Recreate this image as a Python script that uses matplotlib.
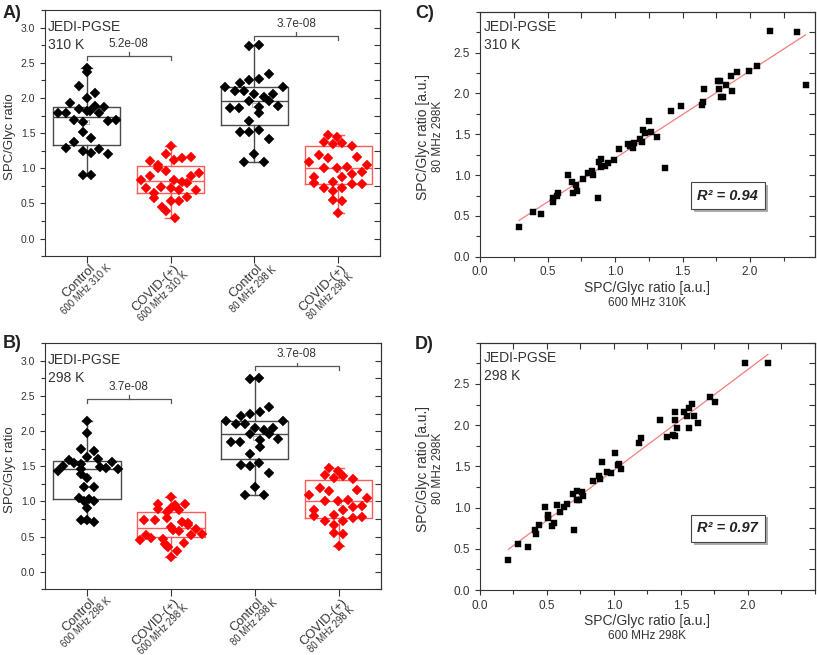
import matplotlib.pyplot as plt
import numpy as np
from matplotlib import patheffects as pe
from matplotlib.ticker import MultipleLocator

plt.rcParams['font.family'] = ['Liberation Sans', 'DejaVu Sans']
TXT = '#333333'
plt.rcParams['text.color'] = TXT
plt.rcParams['axes.labelcolor'] = TXT
plt.rcParams['xtick.color'] = TXT
plt.rcParams['ytick.color'] = TXT
plt.rcParams['axes.edgecolor'] = '#333333'

# ---- box panels: categories ----
cat_main = ['Control', 'COVID-(+)', 'Control', 'COVID-(+)']
cat_sub_a = ['600 MHz 310 K', '600 MHz 310 K', '80 MHz 298 K', '80 MHz 298 K']
cat_sub_b = ['600 MHz 298 K', '600 MHz 298 K', '80 MHz 298 K', '80 MHz 298 K']

# values (and the small horizontal jitter of each point)
a1_vals = [2.43, 2.37, 2.17, 2.07, 2.00, 1.93, 1.89, 1.87, 1.84, 1.82, 1.81, 1.78, 1.79, 1.79,
           1.68, 1.66, 1.67, 1.68, 1.51, 1.43, 1.38, 1.29, 1.25, 1.22, 1.27, 1.20, 0.90, 0.90]
a1_jit = [0, 0, -0.10, 0.10, 0, -0.20, 0.10, 0.20, -0.10, 0, 0.04, -0.35, -0.25, 0.15,
          -0.15, -0.05, 0.25, 0.35, -0.05, 0.05, -0.15, -0.25, -0.05, 0.05, 0.15, 0.25, -0.05, 0.05]
a2_vals = [1.32, 1.20, 1.12, 1.15, 1.16, 1.10, 1.04, 1.00, 0.93, 0.96, 0.89, 0.89, 0.83, 0.83, 0.81,
           0.79, 0.72, 0.73, 0.72, 0.69, 0.69, 0.65, 0.57, 0.54, 0.54, 0.59, 0.45, 0.39, 0.29]
a2_jit = [0, -0.05, 0.04, 0.14, 0.24, -0.25, -0.15, -0.15, 0.34, -0.05, -0.25, 0.24, -0.35, 0.04, 0.14,
          0.19, -0.30, -0.11, 0, 0.10, 0.30, -0.20, -0.20, 0, 0.10, 0.19, -0.10, -0.05, 0.05]
c80_vals = [2.74, 2.76, 2.34, 2.27, 2.25, 2.21, 2.15, 2.15, 2.10, 2.10, 2.05, 2.02, 2.05, 1.96,
            1.96, 1.89, 1.85, 1.85, 1.87, 1.78, 1.67, 1.52, 1.51, 1.55, 1.41, 1.09, 1.20, 1.09]
c80_jit = [-0.06, 0.05, 0.17, 0.06, -0.06, -0.17, -0.35, 0.34, -0.23, -0.12, 0, 0.11, 0.22, -0.06,
           0.17, 0.28, -0.29, -0.18, 0.06, 0.06, -0.06, -0.17, -0.06, 0.05, 0.17, -0.12, 0, 0.11]
v80_vals = [1.47, 1.44, 1.37, 1.34, 1.36, 1.32, 1.19, 1.15, 1.16, 1.09, 1.05, 1.00, 1.01, 1.02,
            0.88, 0.88, 0.94, 0.92, 0.79, 0.725, 0.80, 0.725, 0.77, 0.78, 0.67, 0.55, 0.53, 0.37]
v80_jit = [-0.12, -0.01, -0.17, -0.06, 0.05, 0.17, -0.23, -0.12, 0.22, -0.35, 0.34, -0.17, -0.01, 0.11,
           -0.29, 0.05, 0.28, 0.17, -0.29, -0.17, -0.06, 0.05, 0.17, 0.28, -0.06, -0.06, 0.05, 0]
b1_vals = [2.15, 1.98, 1.75, 1.72, 1.63, 1.60, 1.59, 1.55, 1.56, 1.51, 1.44, 1.53, 1.47, 1.46,
           1.49, 1.46, 1.39, 1.34, 1.21, 1.21, 1.05, 1.04, 1.01, 1.00, 0.91, 0.74, 0.73, 0.71]
b1_jit = [0, 0, -0.07, 0.08, 0, 0.13, -0.21, -0.15, 0.30, -0.28, -0.35, -0.07, 0.23, 0.37,
          0.16, -0.07, -0.07, 0, -0.03, 0.08, -0.10, 0.02, 0.08, -0.03, 0, -0.07, 0, 0.08]
b2_vals = [1.06, 0.96, 0.96, 0.95, 0.89, 0.85, 0.88, 0.90, 0.77, 0.74, 0.73, 0.71, 0.70, 0.66, 0.63,
           0.60, 0.61, 0.58, 0.54, 0.52, 0.52, 0.48, 0.45, 0.46, 0.41, 0.39, 0.37, 0.35, 0.29, 0.21]
b2_jit = [0, -0.15, 0.17, 0.05, -0.15, -0.05, 0.10, 0, -0.05, -0.32, -0.19, 0.13, 0.20, 0.20, 0,
          0.03, 0.30, 0.10, 0.37, -0.30, 0.24, -0.24, -0.37, -0.10, 0.16, -0.07, -0.05, -0.03, 0.07, 0]

# box statistics: q1, median, q3
a_q1 = [1.33, 0.654, 1.61, 0.77]
a_med = [1.73, 0.82, 1.96, 1.00]
a_q3 = [1.87, 1.03, 2.15, 1.31]
b_q1 = [1.04, 0.49, 1.61, 0.77]
b_med = [1.46, 0.62, 1.96, 1.00]
b_q3 = [1.58, 0.846, 2.15, 1.31]

# significance brackets (y level, p-value)
a_brk_y = [2.60, 2.886]
a_brk_p = ['5.2e-08', '3.7e-08']
b_brk_y = [2.461, 2.925]
b_brk_p = ['3.7e-08', '3.7e-08']

# ---- scatter panels ----
c_x = [0.289, 0.39, 0.452, 0.538, 0.538, 0.568, 0.575, 0.649, 0.684, 0.686, 0.709, 0.716, 0.765, 0.802,
       0.832, 0.835, 0.872, 0.879, 0.894, 0.896, 0.928, 0.951, 0.99, 1.027, 1.099, 1.111, 1.131, 1.143,
       1.185, 1.202, 1.205, 1.225, 1.254, 1.269, 1.309, 1.370, 1.412, 1.489, 1.647, 1.649, 1.662, 1.765,
       1.773, 1.778, 1.783, 1.802, 1.822, 1.859, 1.864, 1.904, 1.988, 2.049, 2.148, 2.346, 2.41]
c_y = [0.359, 0.547, 0.523, 0.670, 0.719, 0.743, 0.784, 1.00, 0.915, 0.776, 0.874, 0.80, 0.948, 1.021,
       1.05, 1.005, 0.715, 1.156, 1.20, 1.103, 1.107, 1.144, 1.185, 1.315, 1.377, 1.36, 1.328, 1.397,
       1.438, 1.409, 1.548, 1.511, 1.667, 1.524, 1.471, 1.083, 1.789, 1.846, 1.855, 1.895, 2.051, 2.157,
       2.059, 2.157, 1.961, 1.961, 2.10, 2.214, 2.03, 2.259, 2.275, 2.337, 2.765, 2.749, 2.104]
d_x = [0.212, 0.281, 0.356, 0.411, 0.418, 0.438, 0.486, 0.511, 0.511, 0.540, 0.553, 0.575, 0.600,
       0.628, 0.648, 0.697, 0.705, 0.722, 0.727, 0.742, 0.760, 0.772, 0.842, 0.887, 0.897, 0.909,
       0.951, 0.976, 1.004, 1.029, 1.041, 1.054, 1.188, 1.203, 1.345, 1.395, 1.440, 1.457, 1.457,
       1.457, 1.474, 1.519, 1.544, 1.557, 1.559, 1.584, 1.599, 1.624, 1.719, 1.751, 1.980, 2.149]
d_y = [0.366, 0.553, 0.524, 0.732, 0.683, 0.789, 1.004, 0.915, 0.874, 0.780, 0.813, 1.028, 0.951,
       1.008, 1.049, 1.163, 0.724, 1.089, 1.203, 1.093, 1.187, 1.146, 1.321, 1.382, 1.341, 1.553,
       1.435, 1.415, 1.667, 1.512, 1.524, 1.472, 1.789, 1.846, 2.057, 1.858, 1.878, 2.163, 2.065,
       1.870, 1.963, 2.163, 2.106, 2.211, 1.967, 2.256, 2.106, 2.024, 2.337, 2.276, 2.748, 2.756]
c_r2 = 'R\u00b2 = 0.94'
d_r2 = 'R\u00b2 = 0.97'
c_xsub = '600 MHz 310K'
d_xsub = '600 MHz 298K'
y_sub = '80 MHz 298K'

GREY_BOX = '#4a4a4a'
RED_BOX = '#ff5a5a'

fig = plt.figure(figsize=(8.17, 6.55), dpi=100)
renderer = fig.canvas.get_renderer()


def text_width_pt(s, size):
    tmp = fig.text(0, 0, s, fontsize=size)
    w = tmp.get_window_extent(renderer).width * 72.0 / fig.dpi
    tmp.remove()
    return w


def jedi_label(ax, temp, x0, y0):
    ax.text(x0, y0, 'JEDI-PGSE', transform=ax.transAxes, ha='left', va='top', fontsize=10)
    ax.annotate(temp, xy=(x0, y0), xycoords='axes fraction', xytext=(0, -12.8),
                textcoords='offset points', ha='left', va='top', fontsize=10)


def box_panel(ax, groups, jits, q1, med, q3, sub_labels, brk_y, brk_p, temp):
    pos = np.arange(1, 5)
    cols = ['black', 'red', 'black', 'red']
    ecols = [GREY_BOX, RED_BOX, GREY_BOX, RED_BOX]
    stats = []
    for i, g in enumerate(groups):
        stats.append(dict(q1=q1[i], med=med[i], q3=q3[i], whislo=min(g), whishi=max(g),
                          mean=np.mean(g), fliers=[]))
    art = ax.bxp(stats, positions=pos, widths=0.8, showmeans=True, capwidths=0.13,
                 patch_artist=False)
    for i in range(4):
        c = ecols[i]
        art['boxes'][i].set(color=c, linewidth=1.0)
        art['medians'][i].set(color=c, linewidth=1.0)
        for k in (2 * i, 2 * i + 1):
            art['whiskers'][k].set(color=c, linewidth=1.0)
            art['caps'][k].set(color=c, linewidth=1.0)
        art['means'][i].set(marker='s', markersize=3, markerfacecolor='none',
                            markeredgecolor='#aaaaaa', markeredgewidth=0.6, zorder=2)
    for i, g in enumerate(groups):
        ax.plot(pos[i] + np.array(jits[i]), g, 'D', color=cols[i], markersize=4.6,
                markeredgewidth=0.3, zorder=3)

    # significance brackets
    for j, (y, p) in enumerate(zip(brk_y, brk_p)):
        x1, x2 = pos[2 * j], pos[2 * j + 1]
        xm = (x1 + x2) / 2
        ax.plot([x1, x1, x2, x2], [y - 0.055, y, y, y - 0.055], color='#555555', lw=0.9)
        ax.plot([xm, xm], [y, y + 0.05], color='#555555', lw=0.9)
        ax.text(xm, y + 0.085, p, ha='center', va='bottom', fontsize=8.5)

    ax.set_xlim(0.5, 4.5)
    ax.set_ylim(-0.25, 3.25)
    ax.set_yticks(np.arange(0, 3.01, 0.5))
    ax.yaxis.set_major_formatter(plt.FormatStrFormatter('%.1f'))
    ax.yaxis.set_minor_locator(MultipleLocator(0.25))
    ax.tick_params(axis='y', which='major', direction='out', length=3.5, width=0.8, labelsize=7.5)
    ax.tick_params(axis='y', which='minor', direction='out', length=3, width=0.8)
    ax.set_xticks(pos)
    ax.set_xticklabels([])
    ax.tick_params(axis='x', which='major', direction='out', length=5, width=0.8)
    sec = ax.secondary_yaxis('right')
    sec.yaxis.set_major_locator(MultipleLocator(0.25))
    sec.tick_params(direction='in', length=4, width=0.8, labelright=False)
    ax.annotate('SPC/Glyc ratio', xy=(0, 0.485), xycoords='axes fraction', xytext=(-25, 0),
                textcoords='offset points', ha='center', va='center', rotation=90, fontsize=9.5)

    # two-line rotated category labels: main line right-anchored below the tick,
    # the smaller second line centred under it
    c45 = np.sqrt(0.5)
    ox, oy = 4.5, -7.8
    gap = 8.0
    for i in range(4):
        ax.annotate(cat_main[i], xy=(pos[i], 0), xycoords=('data', 'axes fraction'),
                    xytext=(ox, oy), textcoords='offset points', rotation=45,
                    ha='right', va='center', rotation_mode='anchor', fontsize=9.3)
        half = text_width_pt(cat_main[i], 9.3) / 2
        sx = ox - half * c45 + gap * c45
        sy = oy - half * c45 - gap * c45
        ax.annotate(sub_labels[i], xy=(pos[i], 0), xycoords=('data', 'axes fraction'),
                    xytext=(sx, sy), textcoords='offset points', rotation=45,
                    ha='center', va='center', rotation_mode='anchor', fontsize=6.9)
    jedi_label(ax, temp, 0.008, 0.96)


def scatter_panel(ax, x, y, xmax, r2, xsub, temp):
    ax.plot(x, y, 's', color='black', markersize=4.3, markeredgewidth=0.3, zorder=3)
    k, b = np.polyfit(x, y, 1)
    xl = np.array([min(x), max(x)])
    ax.plot(xl, k * xl + b, color='#f47c7c', lw=0.9, zorder=2)
    ax.set_xlim(0, xmax)
    ax.set_ylim(0, 3.0)
    ax.set_xticks(np.arange(0, 2.01, 0.5))
    ax.set_yticks(np.arange(0, 2.51, 0.5))
    ax.xaxis.set_major_formatter(plt.FormatStrFormatter('%.1f'))
    ax.yaxis.set_major_formatter(plt.FormatStrFormatter('%.1f'))
    ax.xaxis.set_minor_locator(MultipleLocator(0.25))
    ax.yaxis.set_minor_locator(MultipleLocator(0.25))
    ax.tick_params(which='major', direction='out', length=3.5, width=0.8, labelsize=8.5)
    ax.tick_params(which='minor', direction='out', length=3, width=0.8)
    sx = ax.secondary_xaxis('top')
    sx.xaxis.set_major_locator(MultipleLocator(0.25))
    sx.tick_params(direction='in', length=4, width=0.8, labeltop=False)
    sy = ax.secondary_yaxis('right')
    sy.yaxis.set_major_locator(MultipleLocator(0.25))
    sy.tick_params(direction='in', length=4, width=0.8, labelright=False)

    ax.annotate('SPC/Glyc ratio [a.u.]', xy=(0.5, 0), xycoords='axes fraction', xytext=(0, -22.5),
                textcoords='offset points', ha='center', va='center', fontsize=10)
    ax.annotate(xsub, xy=(0.5, 0), xycoords='axes fraction', xytext=(0, -33),
                textcoords='offset points', ha='center', va='center', fontsize=8.5)
    ax.annotate('SPC/Glyc ratio [a.u.]', xy=(0, 0.49), xycoords='axes fraction', xytext=(-41, 0),
                textcoords='offset points', ha='center', va='center', rotation=90, fontsize=10)
    ax.annotate(y_sub, xy=(0, 0.49), xycoords='axes fraction', xytext=(-30, 0),
                textcoords='offset points', ha='center', va='center', rotation=90, fontsize=8.5)

    t = ax.text(0.74, 0.25, r2, transform=ax.transAxes, ha='center', va='center', fontsize=10.5,
                fontweight='bold', style='italic', color='#222222',
                bbox=dict(boxstyle='square,pad=0.45', facecolor='white', edgecolor='#444444', lw=0.8))
    t.get_bbox_patch().set_path_effects([pe.withSimplePatchShadow(offset=(2, -2),
                                                                   shadow_rgbFace='#999999', alpha=0.8)])
    jedi_label(ax, temp, 0.012, 0.965)


ax_a = fig.add_axes([0.0551, 0.609, 0.410, 0.3756])
ax_b = fig.add_axes([0.0551, 0.1003, 0.411, 0.3756])
ax_c = fig.add_axes([0.5875, 0.608, 0.410, 0.374])
ax_d = fig.add_axes([0.5875, 0.0992, 0.410, 0.3776])

box_panel(ax_a, [a1_vals, a2_vals, c80_vals, v80_vals], [a1_jit, a2_jit, c80_jit, v80_jit],
          a_q1, a_med, a_q3, cat_sub_a, a_brk_y, a_brk_p, '310 K')
box_panel(ax_b, [b1_vals, b2_vals, c80_vals, v80_vals], [b1_jit, b2_jit, c80_jit, v80_jit],
          b_q1, b_med, b_q3, cat_sub_b, b_brk_y, b_brk_p, '298 K')
scatter_panel(ax_c, c_x, c_y, 2.48, c_r2, c_xsub, '310 K')
scatter_panel(ax_d, d_x, d_y, 2.50, d_r2, d_xsub, '298 K')

for lab, (fx, fy) in zip(['A)', 'B)', 'C)', 'D)'],
                         [(0.003, 0.993), (0.003, 0.489), (0.508, 0.993), (0.508, 0.487)]):
    fig.text(fx, fy, lab, fontsize=13, fontweight='bold', ha='left', va='top', color='#222222')

fig.savefig('out.png', dpi=100)
